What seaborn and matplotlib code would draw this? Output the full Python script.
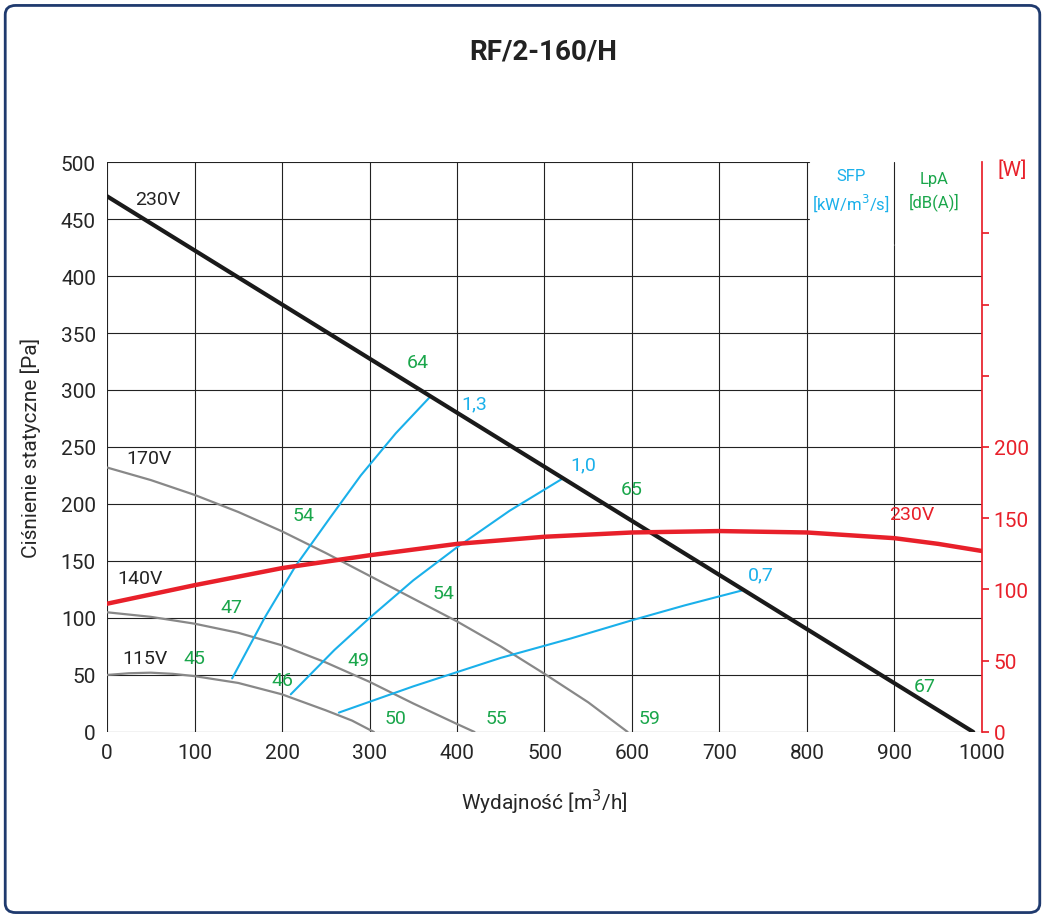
import numpy as np
import pandas as pd
import matplotlib.pyplot as plt
import seaborn as sns
from matplotlib.patches import FancyBboxPatch, Rectangle

sns.set_theme(style="white")
plt.rcParams['font.family'] = ['Roboto', 'DejaVu Sans']

# Fan curves [m3/h, Pa]
q_230 = [0, 990]
p_230 = [470, 0]
q_170 = [0, 50, 100, 150, 200, 250, 300, 350, 400, 450, 500, 550, 595]
p_170 = [232, 221, 208, 193, 176, 157, 137, 117, 97, 75, 51, 26, 0]
q_140 = [0, 50, 100, 150, 200, 250, 300, 350, 400, 420]
p_140 = [105, 101, 95, 87, 76, 61, 44, 25, 7, 0]
q_115 = [0, 25, 50, 75, 100, 150, 200, 250, 280, 305]
p_115 = [50, 51.5, 52, 51, 49, 43, 33, 19, 10, 0]
# Power [W]
q_pw = [0, 100, 200, 300, 400, 500, 600, 700, 800, 850, 900, 950, 1000]
w_pw = [90, 103, 115, 124, 132, 137, 140, 141, 140, 138, 136, 132, 127]
# SFP lines
sfp = {
    '1,3': ([143, 180, 215, 255, 290, 330, 368], [47, 100, 145, 188, 225, 262, 293]),
    '1,0': ([210, 260, 300, 350, 400, 460, 520], [33, 72, 100, 133, 162, 194, 222]),
    '0,7': ([265, 350, 450, 530, 600, 660, 725], [17, 40, 65, 82, 98, 111, 124]),
}
sfp_lab = [('1,3', 405, 288), ('1,0', 530, 235), ('0,7', 733, 138)]
lpa = [('64', 355, 325), ('54', 225, 190), ('47', 142, 110), ('45', 100, 65),
       ('46', 200, 46), ('49', 287, 63), ('54', 385, 122), ('65', 600, 213),
       ('50', 330, 12), ('55', 445, 12), ('59', 620, 12), ('67', 935, 40)]
volt = [('230V', 32, 468), ('170V', 22, 240), ('140V', 12, 135), ('115V', 18, 65)]

fig = plt.figure(figsize=(10.45, 9.2), dpi=100)
fig.patches.append(FancyBboxPatch((0.005, 0.007), 0.99, 0.986, boxstyle="round,pad=0,rounding_size=0.01",
                                  transform=fig.transFigure, fill=False, ec='#1f3a6e', lw=2))
ax = fig.add_axes([0.1024, 0.2033, 0.8373, 0.6195])
ax.set_xlim(0, 1000)
ax.set_ylim(0, 500)
ax.set_xticks(range(0, 1001, 100))
ax.set_yticks(range(0, 501, 50))
ax.grid(True, color='#222222', lw=0.8)
ax.set_axisbelow(True)
for s in ax.spines.values():
    s.set_visible(False)
ax.add_patch(Rectangle((803, 428), 197, 72, color='white', zorder=1))
ax.plot([900, 900], [428, 500], color='#222222', lw=0.8, zorder=1)

gray = '#888888'
sns.lineplot(x=q_170, y=p_170, ax=ax, color=gray, lw=1.6)
sns.lineplot(x=q_140, y=p_140, ax=ax, color=gray, lw=1.6)
sns.lineplot(x=q_115, y=p_115, ax=ax, color=gray, lw=1.6)
for k, (xs, ys) in sfp.items():
    ax.plot(xs, ys, color='#1ab0ea', lw=1.5)
sns.lineplot(x=q_230, y=p_230, ax=ax, color='#1a1a1a', lw=3)

ax2 = ax.twinx()
ax2.set_ylim(0, 400)
ax2.set_yticks([0, 50, 100, 150, 200, 250, 300, 350])
ax2.set_yticklabels(['0', '50', '100', '150', '200', '', '', ''])
for s in ax2.spines.values():
    s.set_visible(False)
ax2.spines['right'].set_visible(True)
ax2.spines['right'].set_color('#e8202a')
ax2.tick_params(axis='y', colors='#e8202a', labelsize=15, length=5, direction='out', right=True)
ax2.plot(q_pw, w_pw, color='#e8202a', lw=3.2)
ax2.text(1018, 395, '[W]', color='#e8202a', fontsize=15, ha='left', va='center')

ax.tick_params(labelsize=15, length=0, pad=8)
for lab, x, y in volt:
    ax.text(x, y, lab, fontsize=14, color='#222222', va='center')
ax.text(920, 183, '230V', fontsize=14, color='#e8202a', ha='center', va='bottom')
for lab, x, y in lpa:
    ax.text(x, y, lab, fontsize=14, color='#1aa64b', ha='center', va='center')
for lab, x, y in sfp_lab:
    ax.text(x, y, lab, fontsize=14, color='#1ab0ea', ha='left', va='center')
ax.text(850, 475, 'SFP\n[kW/m$^3$/s]', fontsize=12, color='#1ab0ea', ha='center', va='center', linespacing=1.5)
ax.text(945, 475, 'LpA\n[dB(A)]', fontsize=12, color='#1aa64b', ha='center', va='center', linespacing=1.5)

ax.set_xlabel('Wydajność [m$^3$/h]', fontsize=15, labelpad=18)
ax.set_ylabel('Ciśnienie statyczne [Pa]', fontsize=15, labelpad=14)
fig.text(0.52, 0.943, 'RF/2-160/H', fontsize=20, fontweight='bold', ha='center', va='center', color='#222222')
fig.savefig('out.png', dpi=100)
